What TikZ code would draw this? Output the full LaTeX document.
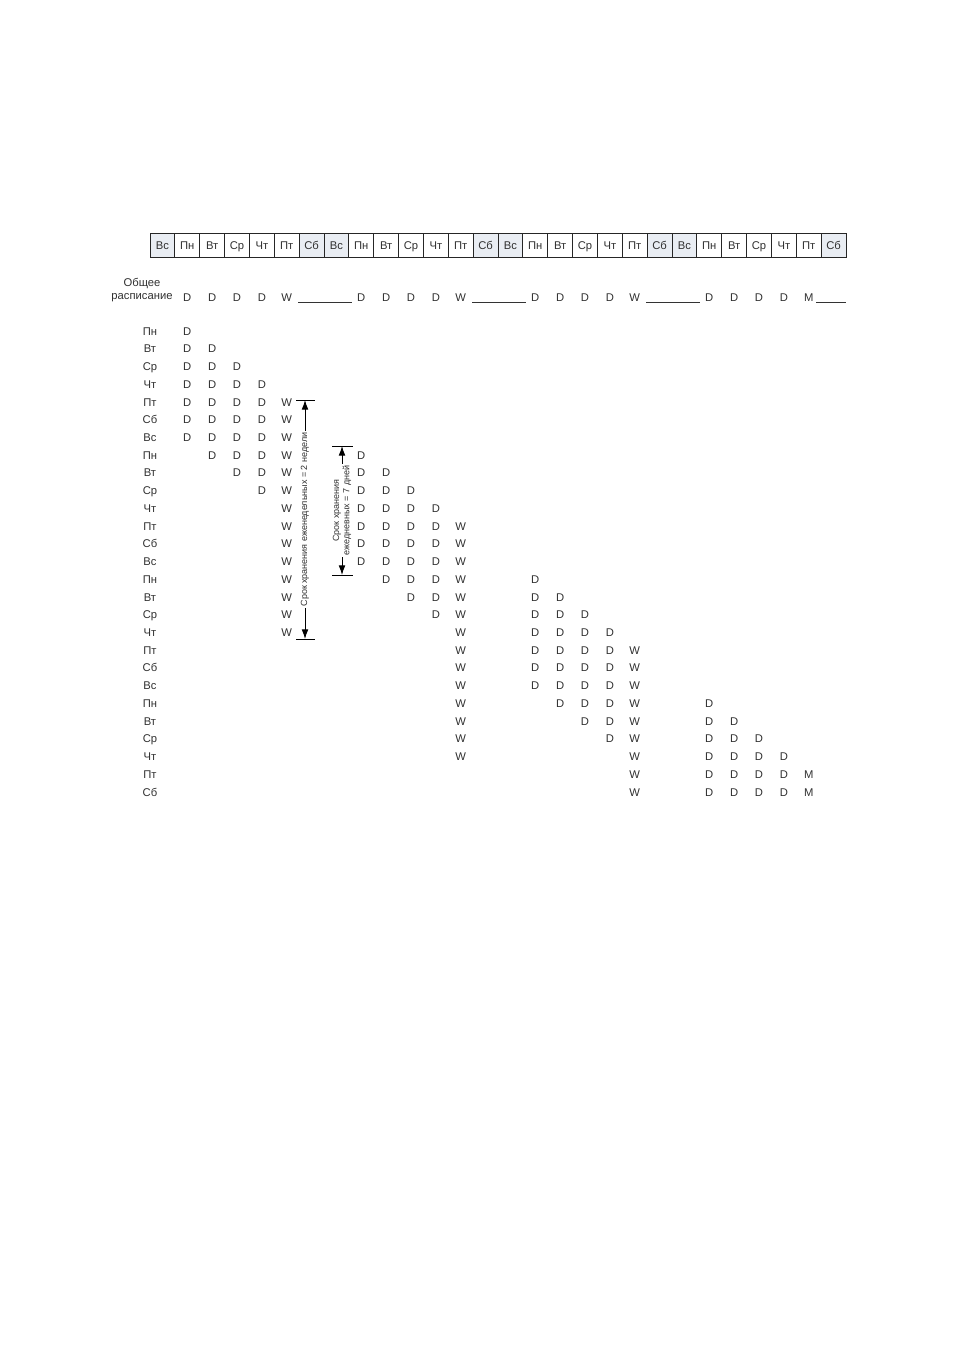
\documentclass[tikz,border=0pt]{standalone}
\usepackage{fontspec}
\setmainfont{Liberation Sans}
\usetikzlibrary{arrows.meta}

\definecolor{txtgray}{HTML}{303030}
\definecolor{wkendfill}{HTML}{E9EDF3}

\tikzset{
  lbl/.style={font=\fontsize{7}{8.4}\selectfont, text=txtgray, inner sep=0pt, text height=5.1pt, text depth=0pt},
  daycell/.style={lbl, draw=black!85, line width=0.55pt, minimum width=15.49pt, minimum height=14.95pt, outer sep=0pt},
  wkendcell/.style={daycell, fill=wkendfill},
  gapline/.style={black!80, line width=0.5pt},
  tick/.style={black, line width=0.55pt},
  keeparrow/.style={{Latex[length=6pt,width=4.2pt]}-{Latex[length=6pt,width=4.2pt]}, black, line width=0.55pt},
  arrowtxt/.style={font=\fontsize{5.6}{6.4}\selectfont, text=txtgray, fill=white, rotate=90, inner sep=1pt, align=center}
}

\begin{document}
\begin{tikzpicture}[x=0.623pt, y=-0.623pt]
  \useasboundingbox (0,0) rectangle (955,1350);

  % bandeau des jours
  \foreach \w in {0,...,3}
    \foreach \d [count=\k from 0] in {Вс,Пн,Вт,Ср,Чт,Пт,Сб} {
      \pgfmathtruncatemacro\i{7*\w+\k}
      \ifnum\k=0 \def\cs{wkendcell}\else\ifnum\k=6 \def\cs{wkendcell}\else\def\cs{daycell}\fi\fi
      \node[\cs] (c\i) at ({150+24.857*(\i+0.5)},245) {\d};
    }

  % planning general
  \node[lbl, align=center, text height=, text depth=] (sched) at (142,290) {Общее\\расписание};
  \foreach \c/\t in {1/D,2/D,3/D,4/D,5/W,8/D,9/D,10/D,11/D,12/W,15/D,16/D,17/D,18/D,19/W,22/D,23/D,24/D,25/D,26/M}
    \node[lbl] (s\c) at ({150+24.857*(\c+0.5)},297) {\t};
  \foreach \a/\b in {5/8,12/15,19/22}
    \draw[gapline] ([xshift=3.6pt,yshift=-1pt]s\a.base east) -- ([xshift=-2.8pt,yshift=-1pt]s\b.base west);
  \draw[gapline] ([xshift=1.5pt,yshift=-1pt]s26.base east) -- ([yshift=-1pt]s26.base east -| c27.east);

  % sauvegardes conservees jour par jour
  \foreach \r/\d/\lst in {
      0/Пн/{1/D},
      1/Вт/{1/D,2/D},
      2/Ср/{1/D,2/D,3/D},
      3/Чт/{1/D,2/D,3/D,4/D},
      4/Пт/{1/D,2/D,3/D,4/D,5/W},
      5/Сб/{1/D,2/D,3/D,4/D,5/W},
      6/Вс/{1/D,2/D,3/D,4/D,5/W},
      7/Пн/{2/D,3/D,4/D,5/W,8/D},
      8/Вт/{3/D,4/D,5/W,8/D,9/D},
      9/Ср/{4/D,5/W,8/D,9/D,10/D},
      10/Чт/{5/W,8/D,9/D,10/D,11/D},
      11/Пт/{5/W,8/D,9/D,10/D,11/D,12/W},
      12/Сб/{5/W,8/D,9/D,10/D,11/D,12/W},
      13/Вс/{5/W,8/D,9/D,10/D,11/D,12/W},
      14/Пн/{5/W,9/D,10/D,11/D,12/W,15/D},
      15/Вт/{5/W,10/D,11/D,12/W,15/D,16/D},
      16/Ср/{5/W,11/D,12/W,15/D,16/D,17/D},
      17/Чт/{5/W,12/W,15/D,16/D,17/D,18/D},
      18/Пт/{12/W,15/D,16/D,17/D,18/D,19/W},
      19/Сб/{12/W,15/D,16/D,17/D,18/D,19/W},
      20/Вс/{12/W,15/D,16/D,17/D,18/D,19/W},
      21/Пн/{12/W,16/D,17/D,18/D,19/W,22/D},
      22/Вт/{12/W,17/D,18/D,19/W,22/D,23/D},
      23/Ср/{12/W,18/D,19/W,22/D,23/D,24/D},
      24/Чт/{12/W,19/W,22/D,23/D,24/D,25/D},
      25/Пт/{19/W,22/D,23/D,24/D,25/D,26/M},
      26/Сб/{19/W,22/D,23/D,24/D,25/D,26/M}} {
    \node[lbl] (lab\r) at (150,{331+17.73*\r}) {\d};
    \foreach \c/\t in \lst
      \node[lbl] (e\r-\c) at ({150+24.857*(\c+0.5)},{331+17.73*\r}) {\t};
  }

  % durees de conservation
  \coordinate (wtop) at (305,400);
  \coordinate (wbot) at (305,639);
  \draw[tick] (wtop) ++(-9,0) -- ++(19,0);
  \draw[tick] (wbot) ++(-9,0) -- ++(19,0);
  \draw[keeparrow] (wtop) -- (wbot) node[midway, arrowtxt] {Срок хранения еженедельных = 2 недели};

  \coordinate (dtop) at (342,446);
  \coordinate (dbot) at (342,575);
  \draw[tick] (dtop) ++(-10,0) -- ++(21,0);
  \draw[tick] (dbot) ++(-10,0) -- ++(21,0);
  \draw[keeparrow] (dtop) -- (dbot) node[midway, arrowtxt] {Срок хранения\\ежедневных = 7 дней};
\end{tikzpicture}
\end{document}
